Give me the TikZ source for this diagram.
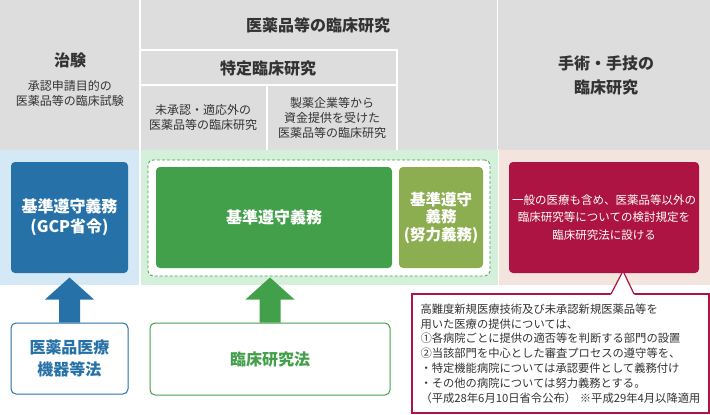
\documentclass[tikz,border=0pt]{standalone}
\usepackage{fontspec}
\setmainfont{Noto Sans CJK JP}
\usetikzlibrary{positioning, calc}
\definecolor{hdgray}{HTML}{DDDDDD}
\definecolor{hdfg}{HTML}{333333}
\definecolor{bandblue}{HTML}{D5E8F5}
\definecolor{bandgreen}{HTML}{D5F0DA}
\definecolor{bandpink}{HTML}{F3E5DD}
\definecolor{dutyblue}{HTML}{2672A8}
\definecolor{dutygreen}{HTML}{43A04A}
\definecolor{dutyolive}{HTML}{8CAE50}
\definecolor{dutycrim}{HTML}{AD1443}

\begin{document}
\begin{tikzpicture}[x=1pt,y=-1pt,
  hdtext/.style={text=hdfg, font=\bfseries\fontsize{16}{24}\selectfont, align=center, inner sep=0pt},
  subtext/.style={text=hdfg, font=\fontsize{12}{15}\selectfont, align=center, inner sep=0pt},
  band/.style={inner sep=0pt, anchor=north west, minimum height=135},
  dutybox/.style={rounded corners=4pt, text=white, align=center, inner sep=0pt,
    font=\bfseries\fontsize{16}{20}\selectfont},
  lawbox/.style={draw, rounded corners=5pt, fill=white, line width=1pt, align=center,
    inner sep=0pt, font=\bfseries\fontsize{16}{22}\selectfont},
  sep/.style={white, line width=1.5pt}]
\useasboundingbox (0,0) rectangle (710,415);

% header
\fill[hdgray] (0,0) rectangle (710,150);
\draw[sep] (140,0)--(140,150);
\draw[sep] (497.5,0)--(497.5,150);
\draw[sep] (140,50)--(397,50)--(397,150);
\draw[sep] (140,85)--(397,85);
\draw[sep] (267,85)--(267,150);
\node[hdtext] (chiken) at (70,60) {治験};
\node[subtext] (chikensub) at (70,93) {承認申請目的の\\医薬品等の臨床試験};
\node[hdtext] (rinsho) at (318,25) {医薬品等の臨床研究};
\node[hdtext] (tokutei) at (268,68) {特定臨床研究};
\node[subtext] (mishonin) at (203,117) {未承認・適応外の\\医薬品等の臨床研究};
\node[subtext] (seiyaku) at (332,118) {製薬企業等から\\資金提供を受けた\\医薬品等の臨床研究};
\node[hdtext] (shujutsu) at (606,75) {手術・手技の\\臨床研究};

% bands
\node[band, fill=bandblue, minimum width=139] (bblue) at (0,150) {};
\node[band, fill=bandgreen, minimum width=357] (bgreen) at (140.5,150) {};
\node[band, fill=bandpink, minimum width=211.5] (bpink) at (498.5,150) {};

% duties
\node[dutybox, fill=dutyblue, minimum width=117, minimum height=111] (gcp) at (69.5,217.5)
  {基準遵守義務\\(GCP省令)};
\node[draw=dutygreen, fill=white, dash pattern=on 3pt off 2pt, line width=0.8pt,
  rounded corners=5pt, minimum width=342, minimum height=116] (frame) at (319,218) {};
\node[dutybox, fill=dutygreen, minimum width=236, minimum height=101] (duty) at (274,217.5)
  {基準遵守義務};
\node[dutybox, fill=dutyolive, minimum width=84, minimum height=101,
  font=\bfseries\fontsize{15.5}{17.5}\selectfont] (effort) at (441,217.5)
  {基準遵守\\義務\\(努力義務)};
\node[dutybox, fill=dutycrim, minimum width=190, minimum height=111,
  font=\fontsize{11.5}{17.5}\selectfont] (kento) at (604,217.5)
  {一般の医療も含め、医薬品等以外の\\臨床研究等についての検討規定を\\臨床研究法に設ける};

% laws
\node[lawbox, draw=dutyblue, text=dutyblue, minimum width=117, minimum height=71] (yakki) at (69.5,358.5)
  {医薬品医療\\機器等法};
\node[lawbox, draw=dutygreen, text=dutygreen, minimum width=240, minimum height=72] (rinshoho) at (270,359)
  {臨床研究法};
\fill[dutyblue] ([xshift=-10.5pt]yakki.north) -- ++(0,-23) -- ++(-14,0) -- ++(24.5,-22)
  -- ++(24.5,22) -- ++(-14,0) -- ([xshift=10.5pt]yakki.north) -- cycle;
\fill[dutygreen] ([xshift=-10.5pt]rinshoho.north) -- ++(0,-23) -- ++(-14,0) -- ++(24.5,-22)
  -- ++(24.5,22) -- ++(-14,0) -- ([xshift=10.5pt]rinshoho.north) -- cycle;

% callout
\node[draw=dutycrim, line width=1.2pt, fill=white, minimum width=297, minimum height=119,
  text width=280, inner xsep=8.5pt, align=left, text=hdfg,
  font=\fontsize{11.3}{14.8}\selectfont] (note) at (560.5,353.5)
  {高難度新規医療技術及び未承認新規医薬品等を\\
   用いた医療の提供については、\\
   ①各病院ごとに提供の適否等を判断する部門の設置\\
   ②当該部門を中心とした審査プロセスの遵守等を、\\
   ・特定機能病院については承認要件として義務付け\\
   ・その他の病院については努力義務とする。\\
   （平成28年6月10日省令公布）\ ※平成29年4月以降適用};
\coordinate (tip) at (623,271);
\fill[white] (610.5,295) -- (tip) -- (634.5,295) -- cycle;
\draw[dutycrim, line width=1.2pt] (611,294) -- (tip) -- (634,294);
\end{tikzpicture}
\end{document}
